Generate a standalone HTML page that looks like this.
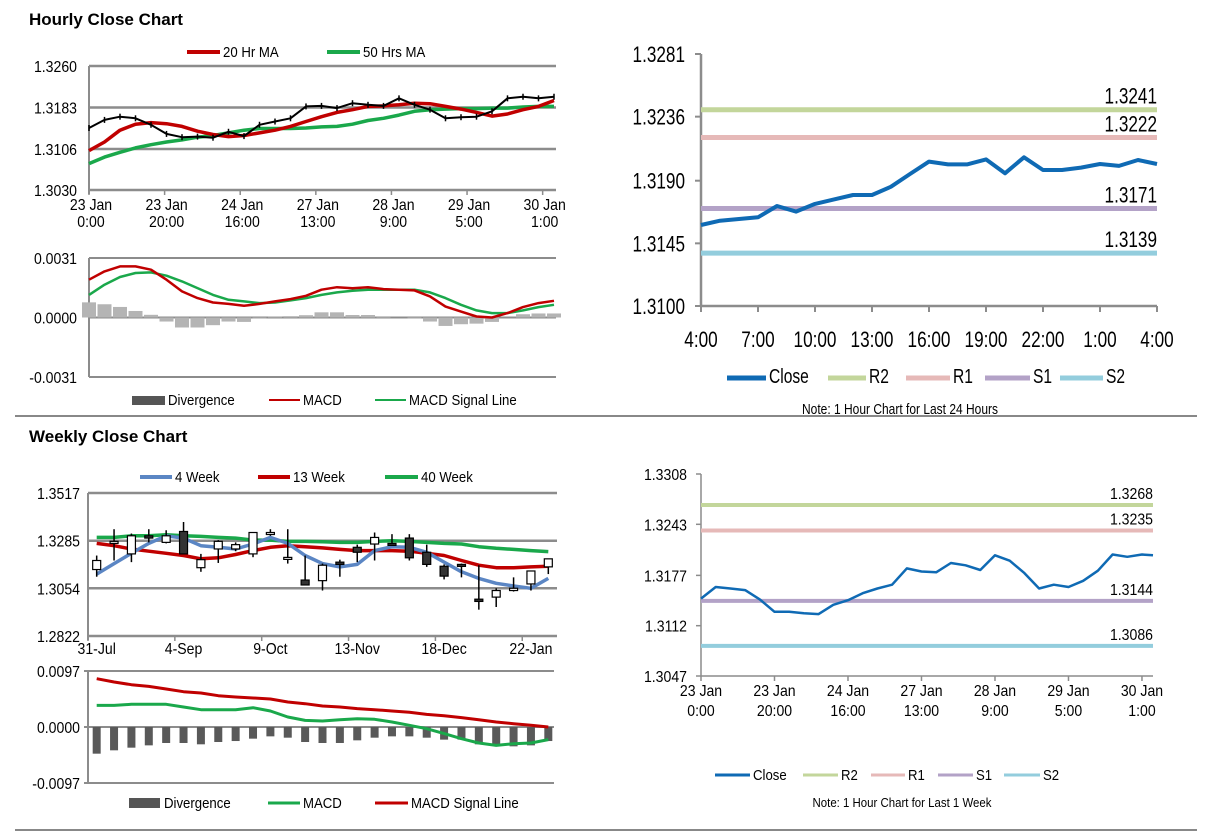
<!DOCTYPE html>
<html><head><meta charset="utf-8">
<style>
html,body{margin:0;padding:0;background:#fff;}
svg{display:block;font-family:"Liberation Sans Narrow","Liberation Sans",sans-serif;}
.t{font-family:"Liberation Sans",sans-serif;font-weight:bold;font-size:17px;fill:#000;}
</style></head>
<body>
<svg id="page" width="1212" height="834" viewBox="0 0 1212 834" xmlns="http://www.w3.org/2000/svg">
<text class="t" x="29" y="25">Hourly Close Chart</text>
<text class="t" x="29" y="442">Weekly Close Chart</text>
<line x1="15" y1="416" x2="1197" y2="416" stroke="#888" stroke-width="2"/>
<line x1="15" y1="830" x2="1197" y2="830" stroke="#888" stroke-width="2"/>
</svg>
<script>
// ---------- Chart A: hourly close + MAs ----------
const aTicks=[1.3030,1.3106,1.3183,1.3260];
const aXLabels=[["23 Jan","0:00"],["23 Jan","20:00"],["24 Jan","16:00"],["27 Jan","13:00"],["28 Jan","9:00"],["29 Jan","5:00"],["30 Jan","1:00"]];
const aClose=[1.3145,1.3160,1.3166,1.3163,1.3151,1.3134,1.3128,1.3129,1.3127,1.3138,1.3130,1.3151,1.3157,1.3163,1.3185,1.3186,1.3182,1.3191,1.3188,1.3186,1.3200,1.3188,1.3179,1.3163,1.3165,1.3166,1.3176,1.3200,1.3203,1.3200,1.3203];
const aMA20=[1.3103,1.3119,1.3141,1.3152,1.3155,1.3153,1.3148,1.3139,1.3133,1.3129,1.3131,1.3136,1.3141,1.3148,1.3157,1.3166,1.3174,1.3179,1.3185,1.3186,1.3188,1.3191,1.3190,1.3185,1.3180,1.3174,1.3167,1.3171,1.3179,1.3185,1.3196];
const aMA50=[1.3079,1.3091,1.3100,1.3108,1.3114,1.3119,1.3123,1.3128,1.3131,1.3136,1.3141,1.3144,1.3144,1.3144,1.3145,1.3147,1.3148,1.3152,1.3159,1.3163,1.3169,1.3176,1.3179,1.3180,1.3181,1.3181,1.3182,1.3182,1.3184,1.3185,1.3185];
// ---------- Chart A MACD ----------
const amTicks=[-0.0031,0.0000,0.0031];
const amMACD=[0.00197,0.0024,0.00266,0.00266,0.00249,0.00197,0.00136,0.00101,0.00078,0.00071,0.00061,0.00071,0.00084,0.00096,0.00113,0.00145,0.00158,0.00152,0.00158,0.00148,0.00145,0.00141,0.0011,0.00057,0.00031,0.00005,0,0.00023,0.00054,0.00075,0.00087];
const amSignal=[0.00118,0.00171,0.00211,0.00232,0.00235,0.00218,0.00188,0.00153,0.00118,0.00092,0.00084,0.00075,0.00078,0.00089,0.00101,0.00118,0.00131,0.00139,0.00145,0.00145,0.00145,0.00145,0.00131,0.00101,0.00066,0.00037,0.00023,0.00023,0.00037,0.00054,0.00066];
// ---------- Chart B: last 24 hours ----------
const bTicks=[1.3100,1.3145,1.3190,1.3236,1.3281];
const bXLabels=["4:00","7:00","10:00","13:00","16:00","19:00","22:00","1:00","4:00"];
const bClose=[1.31582,1.31613,1.31625,1.31637,1.31718,1.31678,1.31733,1.31766,1.31797,1.31797,1.31857,1.31948,1.32037,1.32017,1.32017,1.32053,1.31953,1.32068,1.31977,1.31977,1.31994,1.32020,1.32006,1.32049,1.32020];
const bLevelNames=["R2","R1","S1","S2"];
const bLevels=[1.3241,1.3222,1.3171,1.3139];
const bLevelLines=[1.3241,1.3221,1.3170,1.3138];
// ---------- Chart C: weekly candles ----------
const cTicks=[1.2822,1.3054,1.3285,1.3517];
const cXLabels=["31-Jul","4-Sep","9-Oct","13-Nov","18-Dec","22-Jan"];
const cOpen=[1.3145,1.3272,1.3221,1.3309,1.3277,1.3330,1.3154,1.3245,1.3245,1.3221,1.3323,1.3201,1.3094,1.3091,1.3181,1.3253,1.3269,1.3272,1.3298,1.3229,1.3161,1.3170,1.3001,1.3011,1.3043,1.3075,1.3158];
const cHigh=[1.3213,1.3341,1.3320,1.3341,1.3336,1.3376,1.3221,1.3288,1.3277,1.3325,1.3341,1.3341,1.3213,1.3174,1.3193,1.3266,1.3325,1.3317,1.3317,1.3266,1.3170,1.3174,1.3166,1.3054,1.3107,1.3138,1.3197];
const cLow=[1.3110,1.3189,1.3181,1.3277,1.3272,1.3221,1.3134,1.3177,1.3234,1.3205,1.3309,1.3174,1.3070,1.3043,1.3110,1.3181,1.3189,1.3266,1.3189,1.3158,1.3097,1.3107,1.2950,1.2963,1.3038,1.3043,1.3123];
const cClose=[1.3189,1.3282,1.3309,1.3298,1.3309,1.3221,1.3193,1.3282,1.3266,1.3325,1.3325,1.3204,1.3070,1.3166,1.3170,1.3229,1.3301,1.3266,1.3202,1.3170,1.3113,1.3169,1.2990,1.3043,1.3054,1.3138,1.3197];
const c4W=[1.3123,1.3174,1.3224,1.3272,1.3309,1.3298,1.3261,1.3253,1.3245,1.3269,1.3301,1.3272,1.3213,1.3174,1.3158,1.3170,1.3237,1.3256,1.3253,1.3229,1.3181,1.3134,1.3102,1.3078,1.3065,1.3054,1.3102];
const c13W=[1.3272,1.3261,1.3245,1.3234,1.3224,1.3213,1.3197,1.3202,1.3218,1.3237,1.3253,1.3261,1.3256,1.3250,1.3243,1.3237,1.3237,1.3237,1.3234,1.3224,1.3213,1.3189,1.3166,1.3154,1.3154,1.3158,1.3161];
const c40W=[1.3301,1.3301,1.3309,1.3309,1.3314,1.3309,1.3306,1.3301,1.3298,1.3288,1.3288,1.3282,1.3282,1.3280,1.3277,1.3277,1.3282,1.3285,1.3282,1.3277,1.3272,1.3269,1.3256,1.3248,1.3243,1.3237,1.3232];
// ---------- Chart C MACD ----------
const cmTicks=[-0.0097,0.0000,0.0097];
const cmDiv=[-0.00462,-0.00404,-0.00358,-0.00318,-0.00277,-0.00277,-0.00300,-0.00260,-0.00243,-0.00202,-0.00162,-0.00185,-0.00260,-0.00277,-0.00277,-0.00231,-0.00185,-0.00162,-0.00162,-0.00185,-0.00219,-0.00219,-0.00300,-0.00318,-0.00335,-0.00318,-0.00243];
const cmMACD=[0.00375,0.00375,0.00393,0.00393,0.00393,0.00346,0.00300,0.00300,0.00300,0.00335,0.00277,0.00173,0.00115,0.00104,0.00127,0.00144,0.00133,0.00087,0.00029,-0.00029,-0.00115,-0.00202,-0.00277,-0.00318,-0.00289,-0.00277,-0.00219];
const cmSignal=[0.00837,0.00779,0.00733,0.00704,0.00658,0.00612,0.00589,0.00543,0.00520,0.00502,0.00485,0.00433,0.00404,0.00364,0.00346,0.00318,0.00300,0.00277,0.00254,0.00219,0.00196,0.00162,0.00127,0.00087,0.00058,0.00029,0.0];
// ---------- Chart D: last week ----------
const dTicks=[1.3047,1.3112,1.3177,1.3243,1.3308];
const dXLabels=aXLabels;
const dHours=[0,4,8,12,16,20,24,28,32,36,40,44,48,52,56,60,64,68,72,76,80,84,88,92,96,100,104,108,112,116,120,123];
const dClose=[1.3147,1.3162,1.3160,1.3158,1.3146,1.3130,1.3130,1.3128,1.3127,1.3139,1.3145,1.3154,1.3160,1.3165,1.3186,1.3182,1.3181,1.3193,1.3190,1.3184,1.3203,1.3196,1.3180,1.3160,1.3165,1.3162,1.3170,1.3183,1.3204,1.3201,1.3204,1.3203];
const dLevels=[1.3268,1.3235,1.3144,1.3086];

const NS="http://www.w3.org/2000/svg";
const svg=document.getElementById('page');
function el(tag,attrs,parent){const e=document.createElementNS(NS,tag);for(const k in attrs)e.setAttribute(k,attrs[k]);(parent||svg).appendChild(e);return e;}
function lin(d0,d1,r0,r1){return v=>r0+(v-d0)/(d1-d0)*(r1-r0);}
function txt(x,y,s,size,anchor,name,sx){const t=el('text',{x:0,y:0,'font-size':size,'text-anchor':anchor||'start',fill:'#000',transform:'translate('+x+','+y+') scale('+(sx||0.88)+',1)'});t.textContent=s;


return t;}
function poly(xs,ys,color,w,name){const p=el('polyline',{points:xs.map((x,i)=>x.toFixed(1)+','+ys[i].toFixed(1)).join(' '),fill:'none',stroke:color,'stroke-width':w,'stroke-linejoin':'round'});


return p;}
function hline(x1,x2,y,color,w,name){const l=el('line',{x1:x1,x2:x2,y1:y,y2:y,stroke:color,'stroke-width':w});


return l;}
function vline(x,y1,y2,color,w,name){const l=el('line',{x1:x,x2:x,y1:y1,y2:y2,stroke:color,'stroke-width':w});


return l;}
function legendLine(x1,x2,y,color,w,label,name,size,sx){hline(x1,x2,y,color,w,name+'-swatch');txt(x2+3,y+5,label,size,'start',name+'-label',sx);}
const GRAY='#8c8c8c';

// ===== Chart A =====
(function(){
 const L=89,R=556,T=66,B=190;
 const y=lin(1.3030,1.3260,B,T), x=h=>L+h*(554-L)/123;
 aTicks.forEach(v=>{hline(L,R,y(v),GRAY,2.5,'a-gridline');txt(L-12,y(v)+6,v.toFixed(4),16,'end','a-y-tick-label');});
 vline(L,T,B+4,GRAY,2,'a-y-axis');
 aXLabels.forEach((lb,i)=>{const xx=x(i*20);vline(xx,B,B+5,GRAY,1.5,'a-x-tick');txt(xx+2,B+20,lb[0],16,'middle','a-x-label');txt(xx+2,B+37,lb[1],16,'middle','a-x-label');});
 const hx=aClose.map((v,i)=>x(i*4.1));
 poly(hx,aMA50.map(y),'#1aa84b',3.5,'a-50hr-ma-line');
 poly(hx,aMA20.map(y),'#c00000',3.5,'a-20hr-ma-line');
 poly(hx,aClose.map(y),'#000',2,'a-close-line');
 aClose.forEach((v,i)=>{vline(hx[i],y(v)-3,y(v)+3,'#000',1.5,'a-close-tick');});
 legendLine(187,220,52,'#c00000',4,'20 Hr MA','a-legend-20hr',15);
 legendLine(327,360,52,'#1aa84b',4,'50 Hrs MA','a-legend-50hr',15);
})();
// ===== Chart A MACD =====
(function(){
 const L=89,R=556,T=258,B=377;
 const y=lin(-0.0031,0.0031,B,T), x=h=>L+h*(554-L)/123;
 amTicks.forEach(v=>{hline(L,R,y(v),GRAY,2,'am-gridline');txt(L-12,y(v)+6,v.toFixed(4),16,'end','am-y-tick-label');});
 vline(L,T,B,GRAY,2,'am-y-axis');
 amMACD.forEach((v,i)=>{const d=v-amSignal[i];const r=el('rect',{x:x(i*4.1)-7,y:Math.min(y(d),y(0)),width:14,height:Math.abs(y(d)-y(0)),fill:'#b4b4b4'});
  
  });
 const hx=amMACD.map((v,i)=>x(i*4.1));
 poly(hx,amSignal.map(y),'#1aa84b',2.5,'am-signal-line');
 poly(hx,amMACD.map(y),'#c00000',2.5,'am-macd-line');
 const sw=el('rect',{x:132,y:396,width:33,height:9,fill:'#555'});
 
 
 txt(168,405,'Divergence',15,'start','am-legend-divergence-label');
 legendLine(269,300,400,'#c00000',2,'MACD','am-legend-macd',15);
 legendLine(375,406,400,'#1aa84b',2,'MACD Signal Line','am-legend-signal',15);
})();
// ===== Chart B =====
(function(){
 const L=701,R=1157,T=54,B=306;
 const y=lin(1.3100,1.3281,B,T), x=h=>L+h*(R-L)/24;
 bTicks.forEach(v=>{hline(L-6,L,y(v),GRAY,2,'b-y-tick');txt(685,y(v)+8,v.toFixed(4),22,'end','b-y-tick-label',0.78);});
 vline(L,T,B,GRAY,2.5,'b-y-axis');hline(L,R,B,GRAY,2.5,'b-x-axis');
 bXLabels.forEach((lb,i)=>{const xx=x(i*3);vline(xx,B,B+6,GRAY,2,'b-x-tick');txt(xx,B+41,lb,22,'middle','b-x-label',0.78);});
 const cols=['#c3d69b','#e6b9b8','#b3a2c7','#93cddd'];
 bLevelLines.forEach((v,i)=>{hline(L,R,y(v),cols[i],5,'b-'+bLevelNames[i].toLowerCase()+'-line');txt(R,y(v)-6,bLevels[i].toFixed(4),22,'end','b-'+bLevelNames[i].toLowerCase()+'-value',0.78);});
 poly(bClose.map((v,i)=>x(i)),bClose.map(y),'#0f6ab4',4,'b-close-line');
 legendLine(727,766,378,'#0f6ab4',5,'Close','b-legend-close',20,0.78);
 legendLine(828,866,378,cols[0],5,'R2','b-legend-r2',20,0.78);
 legendLine(906,950,378,cols[1],5,'R1','b-legend-r1',20,0.78);
 legendLine(985,1030,378,cols[2],5,'S1','b-legend-s1',20,0.78);
 legendLine(1060,1103,378,cols[3],5,'S2','b-legend-s2',20,0.78);
 txt(900,414,'Note: 1 Hour Chart for Last 24 Hours',15,'middle','b-note',0.8);
})();
// ===== Chart C =====
(function(){
 const L=88,R=557,T=493,B=636;
 const y=lin(1.2822,1.3517,B,T), bw=(R-L)/27, x=i=>L+(i+0.5)*bw;
 cTicks.forEach(v=>{hline(L,R,y(v),GRAY,2.5,'c-gridline');txt(L-8,y(v)+6,v.toFixed(4),16,'end','c-y-tick-label');});
 vline(L,T,B+4,GRAY,2,'c-y-axis');
 for(let i=0;i<=27;i+=5){vline(L+i*bw,B,B+5,GRAY,1.5,'c-x-tick');}
 cXLabels.forEach((lb,k)=>{txt(x(k*5),B+18,lb,16,'middle','c-x-label');});
 poly(cOpen.map((v,i)=>x(i)),c40W.map(y),'#1aa84b',3.5,'c-40week-line');
 poly(cOpen.map((v,i)=>x(i)),c13W.map(y),'#c00000',3.5,'c-13week-line');
 poly(cOpen.map((v,i)=>x(i)),c4W.map(y),'#5b86c4',3.5,'c-4week-line');
 cOpen.forEach((o,i)=>{const c=cClose[i];vline(x(i),y(cHigh[i]),y(cLow[i]),'#000',1.5,'c-candle-wick');
  const top=y(Math.max(o,c)),h=Math.max(2,Math.abs(y(o)-y(c)));
  const r=el('rect',{x:x(i)-4,y:top,width:8,height:h,fill:c>=o?'#fff':'#333',stroke:'#000','stroke-width':1.2});
  
  });
 legendLine(140,172,477,'#5b86c4',4,'4 Week','c-legend-4week',15);
 legendLine(258,290,477,'#c00000',4,'13 Week','c-legend-13week',15);
 legendLine(385,418,477,'#1aa84b',4,'40 Week','c-legend-40week',15);
})();
// ===== Chart C MACD =====
(function(){
 const L=88,R=554,T=671,B=783;
 const y=lin(-0.0097,0.0097,B,T), bw=(557-88)/27, x=i=>L+(i+0.5)*bw;
 cmTicks.forEach(v=>{hline(L-4,R,y(v),GRAY,2,'cm-gridline');txt(L-8,y(v)+6,v.toFixed(4),16,'end','cm-y-tick-label');});
 vline(L,T,B,GRAY,2,'cm-y-axis');
 cmDiv.forEach((v,i)=>{const r=el('rect',{x:x(i)-4,y:Math.min(y(v),y(0)),width:8,height:Math.abs(y(v)-y(0)),fill:'#595959'});
  
  });
 poly(cmMACD.map((v,i)=>x(i)),cmMACD.map(y),'#1aa84b',3,'cm-macd-line');
 poly(cmSignal.map((v,i)=>x(i)),cmSignal.map(y),'#c00000',3,'cm-signal-line');
 const sw=el('rect',{x:129,y:798,width:31,height:10,fill:'#555'});
 
 
 txt(164,808,'Divergence',15,'start','cm-legend-divergence-label');
 legendLine(268,300,803,'#1aa84b',3,'MACD','cm-legend-macd',15);
 legendLine(375,408,803,'#c00000',3,'MACD Signal Line','cm-legend-signal',15);
})();
// ===== Chart D =====
(function(){
 const L=701,R=1153,T=474,B=676;
 const y=lin(1.3047,1.3308,B,T), x=h=>L+h*(R-L)/123;
 dTicks.forEach(v=>{hline(L-5,L,y(v),GRAY,1.5,'d-y-tick');txt(687,y(v)+6,v.toFixed(4),16,'end','d-y-tick-label');});
 vline(L,T,B,GRAY,1.5,'d-y-axis');hline(L,R,B,GRAY,1.5,'d-x-axis');
 dXLabels.forEach((lb,i)=>{const xx=x(i*20);vline(xx,B,B+5,GRAY,1.5,'d-x-tick');txt(xx,B+20,lb[0],16,'middle','d-x-label');txt(xx,B+40,lb[1],16,'middle','d-x-label');});
 const cols=['#c3d69b','#e6b9b8','#b3a2c7','#93cddd'];
 dLevels.forEach((v,i)=>{hline(L,R,y(v),cols[i],4,'d-'+bLevelNames[i].toLowerCase()+'-line');txt(R,y(v)-6,v.toFixed(4),16,'end','d-'+bLevelNames[i].toLowerCase()+'-value');});
 poly(dHours.map(x),dClose.map(y),'#0f6ab4',2.5,'d-close-line');
 legendLine(715,750,775,'#0f6ab4',3,'Close','d-legend-close',15);
 legendLine(803,838,775,cols[0],3,'R2','d-legend-r2',15);
 legendLine(871,905,775,cols[1],3,'R1','d-legend-r1',15);
 legendLine(938,973,775,cols[2],3,'S1','d-legend-s1',15);
 legendLine(1004,1040,775,cols[3],3,'S2','d-legend-s2',15);
 txt(902,807,'Note: 1 Hour Chart for  Last 1 Week',13,'middle','d-note');
})();
</script>
</body></html>
